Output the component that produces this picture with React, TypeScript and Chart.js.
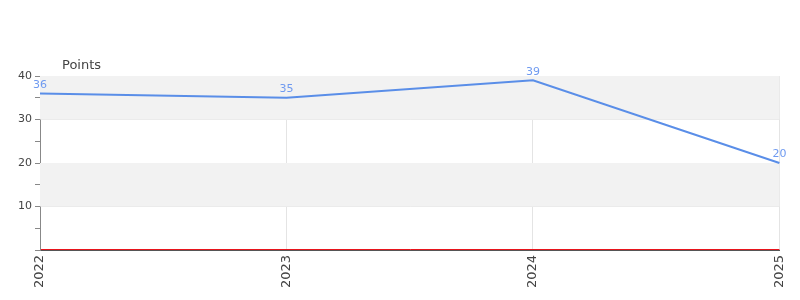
import React, { useEffect, useRef } from "react";
import { Chart, registerables } from "chart.js";

Chart.register(...registerables);

const categories = ["2022", "2023", "2024", "2025"];
const pointsValues = [36, 35, 39, 20];
const baselineValue = 0;
const yTitle = "Points";

const bandPlugin = {
  id: "bands",
  beforeDatasetsDraw(chart: any) {
    const { ctx, chartArea, scales } = chart;
    const y = scales.y;
    ctx.save();
    ctx.fillStyle = "#f2f2f2";
    [[10, 20], [30, 40]].forEach(([a, b]) => {
      const top = y.getPixelForValue(b);
      const bot = y.getPixelForValue(a);
      ctx.fillRect(chartArea.left, top, chartArea.right - chartArea.left, bot - top);
    });
    ctx.restore();
  },
};

const labelsPlugin = {
  id: "valueLabels",
  afterDraw(chart: any) {
    const { ctx, chartArea, scales } = chart;
    const meta = chart.getDatasetMeta(0);
    const ds = chart.data.datasets[0];
    ctx.save();
    // red baseline just above the axis line
    const yb = Math.round(scales.y.getPixelForValue(baselineValue)) - 0.5;
    ctx.strokeStyle = "#e8141c";
    ctx.lineWidth = 1;
    ctx.beginPath();
    ctx.moveTo(chartArea.left + 1, yb);
    ctx.lineTo(chartArea.right, yb);
    ctx.stroke();

    ctx.font = "11px 'DejaVu Sans'";
    ctx.fillStyle = "#6f9af0";
    ctx.textAlign = "center";
    ctx.textBaseline = "bottom";
    meta.data.forEach((pt: any, i: number) => {
      ctx.fillText(String(ds.data[i]), pt.x, pt.y - 3);
    });
    ctx.font = "13px 'DejaVu Sans'";
    ctx.fillStyle = "#444";
    ctx.textAlign = "left";
    ctx.textBaseline = "middle";
    ctx.fillText(yTitle, chartArea.left + 22, chartArea.top - 10);
    ctx.restore();
  },
};

export default function App() {
  const ref = useRef<HTMLCanvasElement>(null);
  useEffect(() => {
    if (!ref.current) return;
    const chart = new Chart(ref.current, {
      type: "line",
      data: {
        labels: categories,
        datasets: [
          {
            label: "Points",
            data: pointsValues,
            borderColor: "#5a8ee8",
            borderWidth: 2,
            pointRadius: 0,
            tension: 0,
            fill: false,
          },
        ],
      },
      options: {
        animation: false,
        responsive: false,
        maintainAspectRatio: false,
        layout: { padding: { top: 76, right: 19, left: 0, bottom: 0 } },
        plugins: { legend: { display: false }, tooltip: { enabled: false }, title: { display: false } },
        scales: {
          x: {
            offset: false,
            afterFit(scale: any) {
              scale.height = 50;
            },
            grid: {
              color: "#e4e4e4",
              drawTicks: false,
            },
            border: { color: "#555", width: 1 },
            ticks: {
              maxRotation: 90,
              minRotation: 90,
              padding: 5,
              color: "#444",
              font: { family: "'DejaVu Sans'", size: 13 },
            },
          },
          y: {
            min: 0,
            max: 40,
            afterFit(scale: any) {
              scale.width = 40;
            },
            grid: {
              color: (c: any) =>
                c.tick && c.tick.value % 10 === 0 && c.tick.value !== 0 ? "#e4e4e4" : "rgba(0,0,0,0)",
              tickColor: "#888",
              tickLength: 5,
              drawTicks: true,
            },
            border: { color: "#888" },
            ticks: {
              stepSize: 5,
              padding: 3,
              color: "#444",
              font: { family: "'DejaVu Sans'", size: 11 },
              callback: (v: any) => (v % 10 === 0 && v !== 0 ? String(v) : ""),
            },
          },
        },
      },
      plugins: [bandPlugin, labelsPlugin],
    });
    return () => chart.destroy();
  }, []);
  return (
    <div style={{ position: "absolute", left: 0, top: 0, width: 800, height: 300, background: "#fff" }}>
      <canvas ref={ref} width={800} height={300} style={{ width: 800, height: 300 }} />
    </div>
  );
}
